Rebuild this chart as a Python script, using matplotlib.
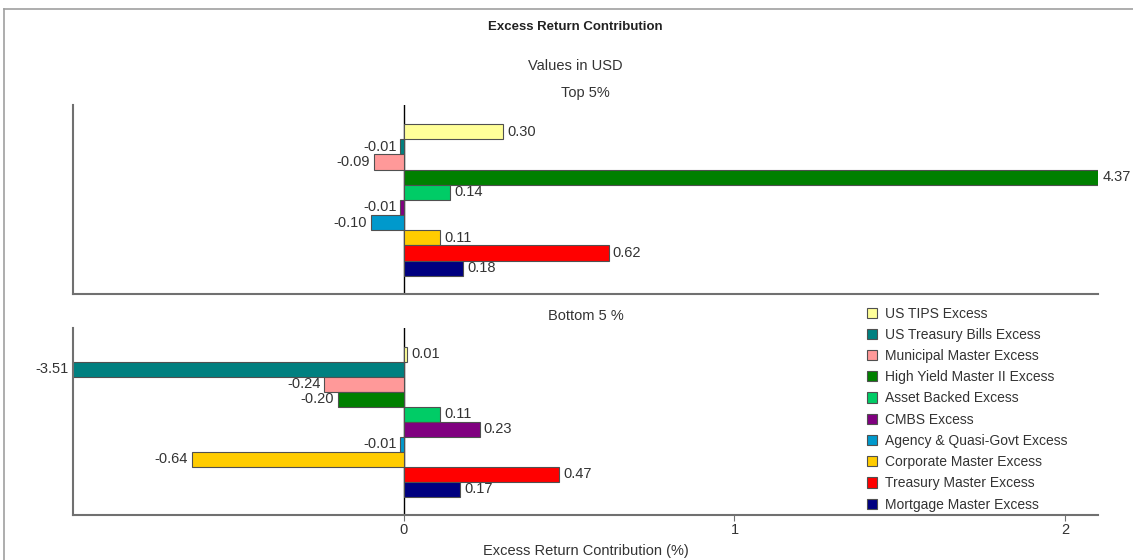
import matplotlib.pyplot as plt
from matplotlib.patches import Patch
from matplotlib.lines import Line2D

plt.rcParams['font.family'] = ['Liberation Sans', 'DejaVu Sans']

# series names, top to bottom
names = ["US TIPS Excess", "US Treasury Bills Excess", "Municipal Master Excess",
         "High Yield Master II Excess", "Asset Backed Excess", "CMBS Excess",
         "Agency & Quasi-Govt Excess", "Corporate Master Excess",
         "Treasury Master Excess", "Mortgage Master Excess"]
colors = ["#FFFF99", "#008080", "#FF9999", "#008000", "#00CC66",
          "#800080", "#0099CC", "#FFCC00", "#FF0000", "#000080"]
top_vals = [0.30, -0.01, -0.09, 4.37, 0.14, -0.01, -0.10, 0.11, 0.62, 0.18]
bottom_vals = [0.01, -3.51, -0.24, -0.20, 0.11, 0.23, -0.01, -0.64, 0.47, 0.17]
xticks = [0, 1, 2]
xmin, xmax = -1.0, 2.1

fig = plt.figure(figsize=(11.33, 5.6), dpi=100)
ax1 = fig.add_axes([0.0644, 0.475, 0.905, 0.3375])
ax2 = fig.add_axes([0.0644, 0.0804, 0.905, 0.334])

# outer frame lines
fig.add_artist(Line2D([4/1133, 4/1133], [0, 1-9/560], color="#a0a0a0", lw=1.2))
fig.add_artist(Line2D([4/1133, 1], [1-9/560, 1-9/560], color="#a0a0a0", lw=1.2))

def panel(ax, vals, title):
    pos = list(range(len(vals)))
    ax.barh(pos, vals, height=1.0, color=colors, edgecolor="#505050", linewidth=0.8)
    ax.set_xlim(xmin, xmax)
    ax.set_ylim(len(vals) - 1 + 1.7, -1.75)
    ax.axvline(0, color="black", lw=1, zorder=0.5)
    for p, v in zip(pos, vals):
        xv = min(max(v, xmin), xmax)
        if v >= 0:
            ax.text(xv + 0.012, p, f"{v:.2f}", ha="left", va="center", fontsize=10.5, color="#333333")
        else:
            ax.text(xv - 0.012, p, f"{v:.2f}", ha="right", va="center", fontsize=10.5, color="#333333")
    for s in ["top", "right"]:
        ax.spines[s].set_visible(False)
    for s in ["left", "bottom"]:
        ax.spines[s].set_color("#707070")
        ax.spines[s].set_linewidth(1.5)
    ax.set_yticks([])
    ax.set_title(title, fontsize=10.5, color="#333333", pad=6)

panel(ax1, top_vals, "Top 5%")
panel(ax2, bottom_vals, "Bottom 5 %")
ax1.set_xticks([])
ax2.set_xticks(xticks)
ax2.set_xticklabels([str(t) for t in xticks], fontsize=10.5, color="#333333")
ax2.tick_params(axis="x", length=4, color="#707070", pad=2)
ax2.set_xlabel("Excess Return Contribution (%)", fontsize=10.5, color="#333333", labelpad=5)

fig.text(0.508, 1 - 27/560, "Excess Return Contribution", ha="center", va="center",
         fontsize=9.5, fontweight="bold", color="#222222")
fig.text(0.508, 1 - 66/560, "Values in USD", ha="center", va="center", fontsize=10.5, color="#333333")

handles = [Patch(facecolor=c, edgecolor="#505050", linewidth=0.8) for c in colors]
fig.legend(handles, names, loc="upper left", bbox_to_anchor=(854/1133, 1 - 294/560),
           frameon=False, fontsize=10, handlelength=0.75, handleheight=0.75,
           handletextpad=0.6, labelspacing=0.52, labelcolor="#333333")

fig.savefig("out.png", dpi=100)
